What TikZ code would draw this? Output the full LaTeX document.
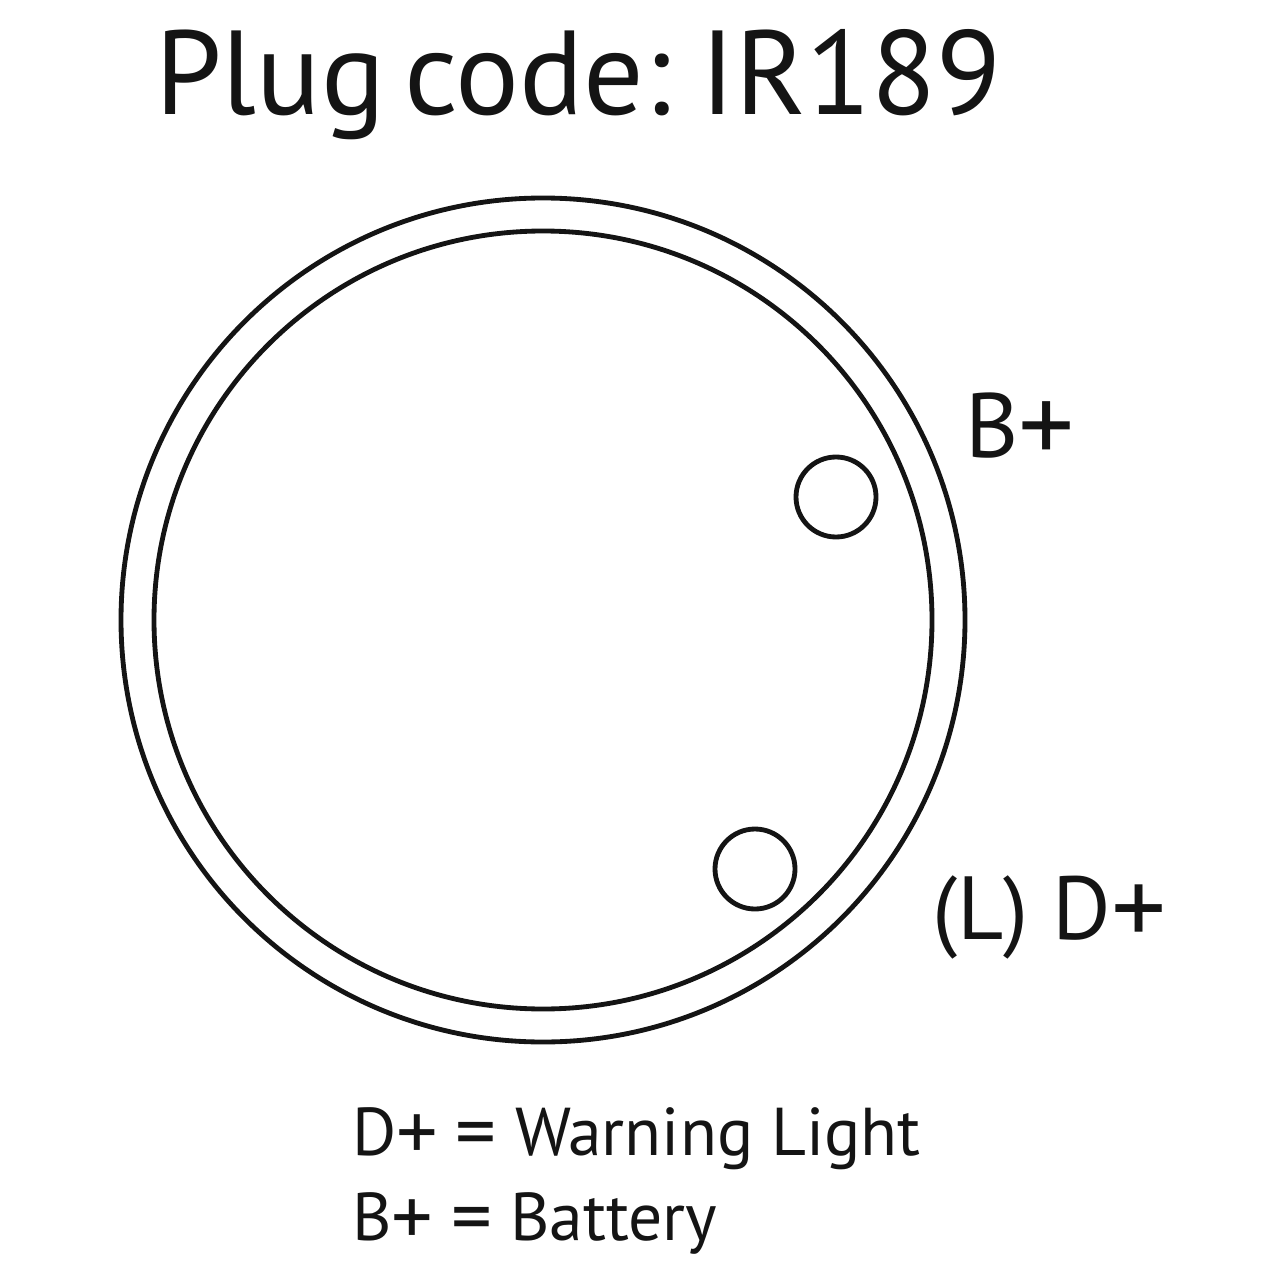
\documentclass[tikz,border=0pt]{standalone}
\usepackage{fontspec}
\usepackage{graphicx}
\setmainfont{PT Sans}
\newcommand{\wideplus}{\raisebox{-0.075em}{\scalebox{1.22}{+}}}
\newcommand{\wideeq}{\raisebox{-0.06em}{\scalebox{1.2}{=}}}
\tikzset{
 px/.style={x=0.02cm,y=-0.02cm},
 ring/.style={draw=black!92,line width=2.75pt,circle,minimum size=#1*0.02cm,inner sep=0pt,outer sep=0pt},
 lbl/.style={anchor=base west,inner sep=0pt,outer sep=0pt,text=black!92},
}
\begin{document}
\begin{tikzpicture}[px]
\useasboundingbox (0,0) rectangle (1280,1280);
\node[ring=844] (outer) at (543,620) {};
\node[ring=778] (inner) at (543,620) {};
\node[ring=80] (bplus) at (836,497) {};
\node[ring=80] (dplus) at (755,869) {};
\node[lbl,font=\fontsize{68pt}{68pt}\selectfont] (title) at (155,115) {\spaceskip=0.16em Plug code: IR189};
\node[lbl,font=\fontsize{52pt}{52pt}\selectfont] (blabel) at (965,457) {B\wideplus};
\node[lbl,font=\fontsize{51pt}{51pt}\selectfont] (dlabel) at (932,939) {(L) D\wideplus};
\node[lbl,font=\fontsize{38.5pt}{39pt}\selectfont] (leg1) at (352,1155) {D\wideplus{} \wideeq{} Warning Light};
\node[lbl,font=\fontsize{38.5pt}{39pt}\selectfont] (leg2) at (352,1240) {B\wideplus{} \wideeq{} Battery};
\end{tikzpicture}
\end{document}
